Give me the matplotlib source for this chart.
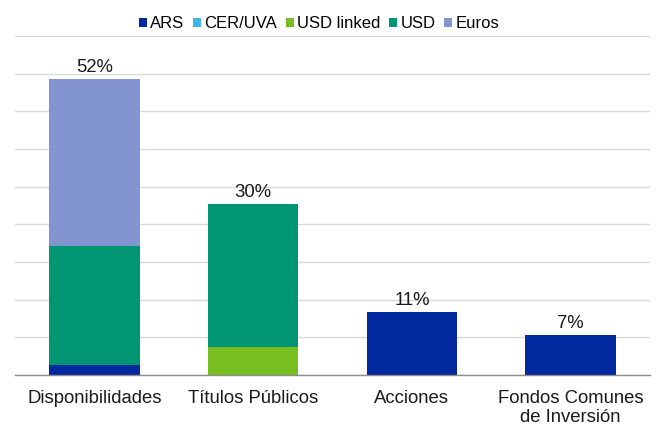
import matplotlib
matplotlib.use("Agg")
import matplotlib.pyplot as plt
import numpy as np

categories = ["Disponibilidades", "Títulos Públicos", "Acciones", "Fondos Comunes\nde Inversión"]
series_names = ["ARS", "CER/UVA", "USD linked", "USD", "Euros"]
ars = [1.8, 0.0, 11.0, 7.0]
cer_uva = [0.0, 0.0, 0.0, 0.0]
usd_linked = [0.0, 4.9, 0.0, 0.0]
usd = [20.9, 25.1, 0.0, 0.0]
euros = [29.3, 0.0, 0.0, 0.0]
totals_labels = ["52%", "30%", "11%", "7%"]

colors = ["#0029A0", "#3DB5E6", "#78BE21", "#009673", "#8395D0"]

plt.rcParams['font.family'] = ['Liberation Sans', 'DejaVu Sans']
FS = 13.3

fig = plt.figure(figsize=(6.56, 4.25), dpi=100)
ax = fig.add_axes([15/656, 50/425, 635/656, 339/425])

x = np.arange(len(categories))
width = 0.57
bottom = np.zeros(len(categories))
handles = []
for name, vals, c in zip(series_names, [ars, cer_uva, usd_linked, usd, euros], colors):
    vals = np.array(vals)
    h = ax.bar(x, vals, width, bottom=bottom, color=c, label=name, zorder=3)
    handles.append(h)
    bottom += vals

for xi, tot, lab in zip(x, bottom, totals_labels):
    ax.text(xi, tot + 0.6, lab, ha="center", va="bottom", fontsize=FS, color="#1a1a1a")

ymax = 59.6
ax.set_ylim(0, ymax)
ax.set_xlim(-0.5, 3.5)
ax.set_yticks(np.linspace(0, ymax, 10))
ax.set_yticklabels([])
ax.tick_params(axis="y", length=0)
ax.yaxis.grid(True, color="#D9D9D9", linewidth=1.0, zorder=0)
ax.set_axisbelow(True)
for s in ["top", "right", "left"]:
    ax.spines[s].set_visible(False)
ax.spines["bottom"].set_color("#8C8C8C")
ax.spines["bottom"].set_linewidth(1.0)
ax.spines["bottom"].set_zorder(4)
ax.set_xticks(x)
ax.set_xticklabels(categories, fontsize=FS, color="#1a1a1a", linespacing=1.12)
ax.tick_params(axis="x", length=0, pad=11)

fig.legend(handles=handles, labels=series_names, loc="center", bbox_to_anchor=(319/656, 1 - 24/425),
           ncol=5, frameon=False, fontsize=12, handlelength=0.5, handleheight=0.5,
           handletextpad=0.2, columnspacing=0.5, borderaxespad=0)

fig.savefig("out.png", dpi=100)
